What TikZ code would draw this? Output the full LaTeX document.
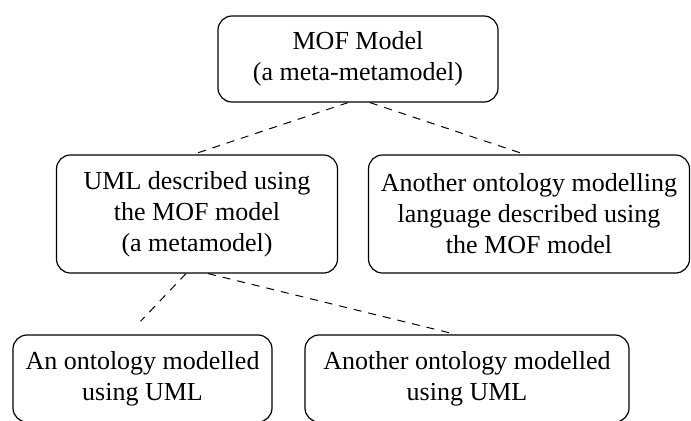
\documentclass[tikz,border=0pt]{standalone}
\usepackage{fontspec}
\setmainfont{Liberation Serif}

\begin{document}
\begin{tikzpicture}[x=.5pt,y=-.5pt,
  mbox/.style={draw,rounded corners=7pt,line width=.6pt,align=center,inner sep=0pt,font=\fontsize{13}{15.5}\selectfont},
  link/.style={dash pattern=on 4pt off 3.5pt,line width=.5pt}]
\useasboundingbox (0,0) rectangle (691,420);
\node[mbox,minimum width=140pt,minimum height=43pt] (mof) at (358,59){MOF Model\\(a meta-metamodel)};
\node[mbox,minimum width=140.5pt,minimum height=59pt] (uml) at (197,214){UML described using\\the MOF model\\(a metamodel)};
\node[mbox,minimum width=160.5pt,minimum height=59pt] (lang) at (529,214){Another ontology modelling\\language described using\\the MOF model};
\node[mbox,minimum width=129.5pt,minimum height=43.5pt] (onto) at (142.5,378.5){An ontology modelled\\using UML};
\node[mbox,minimum width=162pt,minimum height=43.5pt] (other) at (467,378.5){Another ontology modelled\\using UML};
\draw[link] ([xshift=-5pt]mof.south) -- ([xshift=-2pt]uml.north);
\draw[link] ([xshift=6pt]mof.south) -- ([xshift=-2pt]lang.north);
\draw[link,shorten >=9pt] ([xshift=-5.5pt]uml.south) -- ([xshift=-7.25pt]onto.north);
\draw[link] ([xshift=5.5pt]uml.south) -- ([xshift=-5.5pt]other.north);
\end{tikzpicture}
\end{document}
